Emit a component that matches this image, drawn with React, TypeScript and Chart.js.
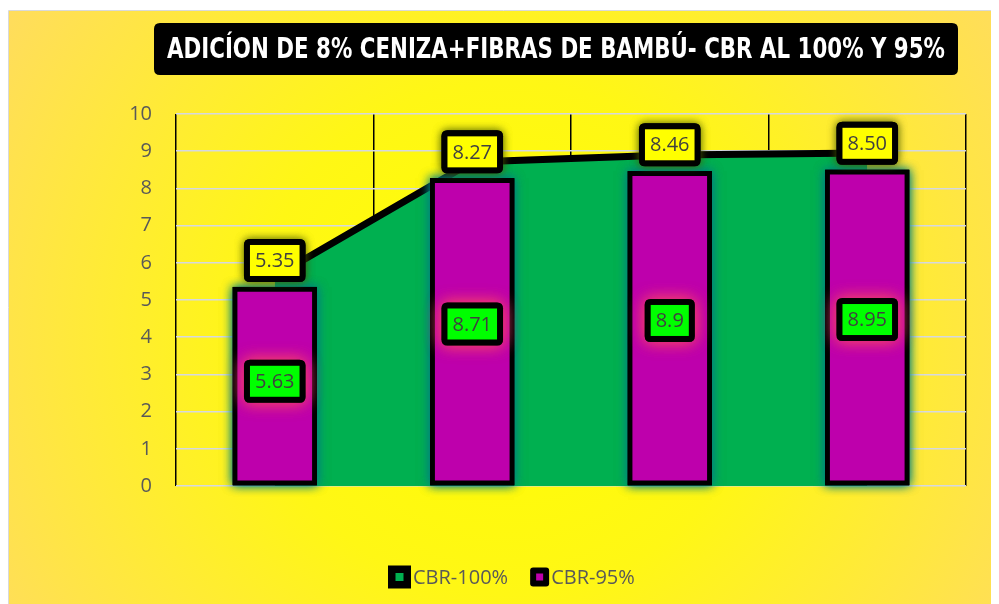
import React, { useEffect, useRef } from 'react';
import { Chart, registerables } from 'chart.js';

Chart.register(...registerables);

const categories = ['Muestra 1', 'Muestra 2', 'Muestra 3', 'Muestra 4'];
const cbr100 = [5.63, 8.71, 8.9, 8.95];
const cbr95 = [5.35, 8.27, 8.46, 8.5];
const cbr100Labels = ['5.63', '8.71', '8.9', '8.95'];
const cbr95Labels = ['5.35', '8.27', '8.46', '8.50'];
const yTicks = [0, 1, 2, 3, 4, 5, 6, 7, 8, 9, 10];
const seriesNames = ['CBR-100%', 'CBR-95%'];
const titleText = 'ADICÍON DE 8% CENIZA+FIBRAS DE BAMBÚ- CBR AL 100% Y 95%';

const GREEN = '#00B050';
const PURPLE = '#BE00AC';
const FONT = '"Open Sans", "Noto Sans", sans-serif';

function roundRectPath(ctx: CanvasRenderingContext2D, x: number, y: number, w: number, h: number, r: number) {
  ctx.beginPath();
  ctx.moveTo(x + r, y);
  ctx.lineTo(x + w - r, y);
  ctx.quadraticCurveTo(x + w, y, x + w, y + r);
  ctx.lineTo(x + w, y + h - r);
  ctx.quadraticCurveTo(x + w, y + h, x + w - r, y + h);
  ctx.lineTo(x + r, y + h);
  ctx.quadraticCurveTo(x, y + h, x, y + h - r);
  ctx.lineTo(x, y + r);
  ctx.quadraticCurveTo(x, y, x + r, y);
  ctx.closePath();
}

function drawLabelBox(
  ctx: CanvasRenderingContext2D,
  text: string,
  cx: number,
  cy: number,
  fill: string,
  glow: string,
  blur: number
) {
  ctx.save();
  ctx.font = `20px ${FONT}`;
  const tw = ctx.measureText(text).width;
  const w = tw + 22;
  const h = 43;
  const x = cx - w / 2;
  const y = cy - h / 2;
  ctx.shadowColor = glow;
  ctx.shadowBlur = blur;
  ctx.fillStyle = '#000';
  roundRectPath(ctx, x, y, w, h, 6);
  ctx.fill();
  ctx.fill();
  ctx.shadowColor = 'transparent';
  ctx.shadowBlur = 0;
  ctx.fillStyle = fill;
  ctx.fillRect(x + 6, y + 6, w - 12, h - 12);
  ctx.fillStyle = '#404040';
  ctx.textAlign = 'center';
  ctx.textBaseline = 'middle';
  ctx.fillText(text, cx, cy + 1);
  ctx.restore();
}

const backgroundPlugin = {
  id: 'bgTitle',
  beforeDraw(chart: any) {
    const { ctx, width, height } = chart;
    ctx.save();
    const g = ctx.createRadialGradient(500, 330, 0, 500, 330, 640);
    g.addColorStop(0, '#FFFF00');
    g.addColorStop(0.4, '#FFF715');
    g.addColorStop(1, '#FFD966');
    ctx.fillStyle = g;
    ctx.fillRect(1, 3, width - 1, height - 3);
    ctx.strokeStyle = '#D9D9D9';
    ctx.lineWidth = 1;
    ctx.beginPath();
    ctx.moveTo(0.5, height);
    ctx.lineTo(0.5, 2.5);
    ctx.lineTo(width, 2.5);
    ctx.stroke();

    // title box
    ctx.fillStyle = '#000';
    roundRectPath(ctx, 146, 15, 804, 52, 6);
    ctx.fill();
    ctx.font = `bold 29px "Liberation Sans Narrow", "DejaVu Sans Condensed", "Liberation Sans", sans-serif`;
    const tw = ctx.measureText(titleText).width;
    const target = 778;
    ctx.translate(548, 42);
    ctx.scale(target / tw, 1);
    ctx.fillStyle = '#FFFFFF';
    ctx.textAlign = 'center';
    ctx.textBaseline = 'middle';
    ctx.fillText(titleText, 0, 0);
    ctx.restore();
  },
  beforeDatasetDraw(chart: any, args: any) {
    if (args.index !== 1) return;
    const { ctx } = chart;
    ctx.save();
    ctx.shadowColor = 'rgba(0,130,130,0.95)';
    ctx.shadowBlur = 10;
    ctx.fillStyle = '#000';
    args.meta.data.forEach((el: any) => {
      const { x, y, base, width } = el.getProps(['x', 'y', 'base', 'width'], true);
      ctx.fillRect(x - width / 2, y, width, base - y);
      ctx.fillRect(x - width / 2, y, width, base - y);
    });
    ctx.restore();
  },
  afterDatasetsDraw(chart: any) {
    const { ctx } = chart;
    const yScale = chart.scales.y;
    const zero = yScale.getPixelForValue(0);
    const lineMeta = chart.getDatasetMeta(0);
    lineMeta.data.forEach((el: any, i: number) => {
      const cy = (el.y + zero) / 2;
      drawLabelBox(ctx, cbr100Labels[i], el.x, cy, '#00FF00', 'rgba(240,60,110,0.95)', 16);
    });
    const barMeta = chart.getDatasetMeta(1);
    barMeta.data.forEach((el: any, i: number) => {
      const cy = el.y - 5 - 21.5;
      drawLabelBox(ctx, cbr95Labels[i], el.x, cy, '#FFFF00', 'rgba(70,90,0,0.6)', 8);
    });
  },
  afterDraw(chart: any) {
    const { ctx } = chart;
    ctx.save();
    ctx.font = `20px ${FONT}`;
    ctx.textBaseline = 'middle';
    ctx.textAlign = 'left';
    const cy = 569;
    let x = 380;
    ctx.fillStyle = '#000';
    ctx.fillRect(x, cy - 11.5, 23, 23);
    ctx.fillStyle = GREEN;
    ctx.fillRect(x + 7.5, cy - 4, 8, 8);
    ctx.fillStyle = '#595959';
    ctx.fillText(seriesNames[0], x + 25, cy + 1);
    const tw1 = ctx.measureText(seriesNames[0]).width;
    x = x + 25 + tw1 + 22;
    ctx.fillStyle = '#000';
    roundRectPath(ctx, x, cy - 9.5, 19, 19, 3);
    ctx.fill();
    ctx.fillStyle = PURPLE;
    ctx.fillRect(x + 6, cy - 3.5, 7, 7);
    ctx.fillStyle = '#595959';
    ctx.fillText(seriesNames[1], x + 21, cy + 1);
    ctx.restore();
  },
};

export default function App() {
  const ref = useRef<HTMLCanvasElement>(null);
  useEffect(() => {
    if (!ref.current) return;
    const chart = new Chart(ref.current, {
      type: 'bar',
      data: {
        labels: categories,
        datasets: [
          {
            type: 'line',
            label: seriesNames[0],
            data: cbr100,
            fill: 'origin',
            backgroundColor: GREEN,
            borderColor: '#000',
            borderWidth: 7,
            pointRadius: 0,
            tension: 0,
            order: 2,
          } as any,
          {
            type: 'bar',
            label: seriesNames[1],
            data: cbr95,
            backgroundColor: PURPLE,
            borderColor: '#000',
            borderWidth: 5,
            borderSkipped: false,
            barThickness: 84,
            order: 1,
          } as any,
        ],
      },
      options: {
        responsive: false,
        animation: false,
        layout: { padding: { left: 108, right: 33, top: 106, bottom: 118 } },
        plugins: {
          legend: { display: false },
          tooltip: { enabled: false },
          title: { display: false },
        },
        scales: {
          x: {
            offset: true,
            grid: { offset: true, color: '#000', lineWidth: 1.5, drawTicks: false },
            border: { display: false },
            ticks: { display: false },
            afterFit(s: any) {
              s.height = 0;
            },
          },
          y: {
            min: 0,
            max: 10,
            afterBuildTicks(s: any) {
              s.ticks = yTicks.map((v) => ({ value: v }));
            },
            ticks: {
              padding: 24,
              color: '#595959',
              font: { family: FONT, size: 20 },
            },
            grid: { color: '#D5D8E0', lineWidth: 1.5, drawTicks: false },
            border: { display: false },
            afterFit(s: any) {
              s.width = 60;
            },
          },
        },
      } as any,
      plugins: [backgroundPlugin as any],
    });
    return () => chart.destroy();
  }, []);
  return <canvas ref={ref} width={991} height={596} style={{ display: 'block' }} />;
}
